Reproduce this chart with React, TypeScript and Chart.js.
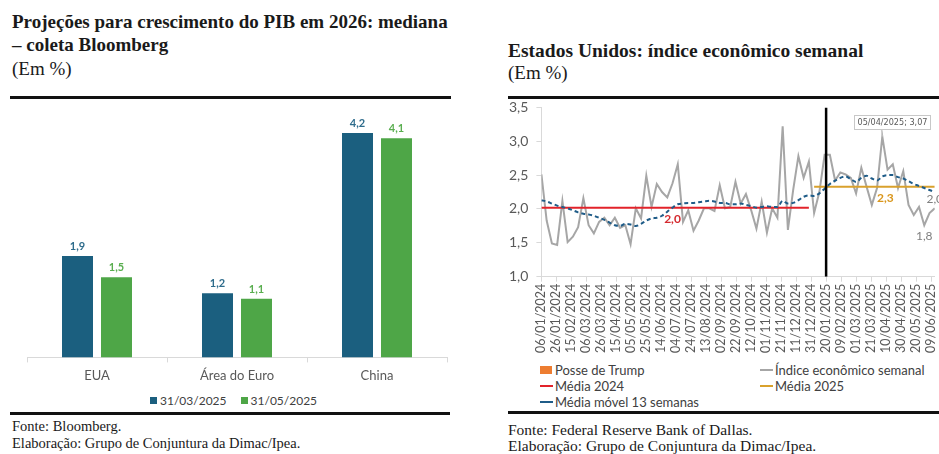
import React, { useEffect, useRef } from "react";
import { Chart, registerables } from "chart.js";
Chart.register(...registerables);

// ---------- Left chart data ----------
const barCategories = ["EUA", "Área do Euro", "China"];
const barSeriesNames = ["31/03/2025", "31/05/2025"];
const barMarch = [1.9, 1.2, 4.2];
const barMay = [1.5, 1.1, 4.1];

// ---------- Right chart data ----------
const firstWeek = "2024-01-06";
const weeklyIndex = [
  2.51, 1.83, 1.49, 1.47, 2.12, 1.51, 1.59, 1.73, 2.16, 1.76,
  1.64, 1.81, 1.87, 1.76, 1.87, 1.72, 1.76, 1.48, 2.01, 1.86,
  2.49, 2.03, 2.37, 2.25, 2.17, 2.38, 2.66, 1.81, 1.98, 1.68,
  1.83, 2.01, 2.01, 1.97, 2.35, 2.01, 2.03, 2.40, 2.08, 2.22,
  1.98, 1.71, 2.11, 1.65, 2.01, 1.87, 3.22, 1.69, 2.28, 2.78,
  2.46, 2.70, 1.94, 2.25, 2.80, 2.80, 2.42, 2.54, 2.51, 2.46,
  2.23, 2.61, 2.33, 2.06, 2.31, 3.07, 2.58, 2.66, 2.31, 2.56,
  2.06, 1.91, 2.03, 1.76, 1.94, 2.01,
];
const movingAvg13 = [
  2.13, 2.11, 2.08, 2.05, 2.03, 2.01, 1.98, 1.95, 1.93, 1.92,
  1.90, 1.87, 1.84, 1.80, 1.76, 1.75, 1.78, 1.77, 1.75, 1.78,
  1.83, 1.86, 1.87, 1.90, 1.96, 2.02, 2.07, 2.08, 2.09, 2.09,
  2.10, 2.11, 2.12, 2.11, 2.09, 2.09, 2.07, 2.07, 2.08, 2.06,
  2.04, 2.02, 2.03, 2.04, 2.03, 2.03, 2.12, 2.08, 2.09, 2.13,
  2.18, 2.20, 2.19, 2.23, 2.30, 2.37, 2.42, 2.46, 2.48, 2.44,
  2.40, 2.46, 2.49, 2.45, 2.42, 2.48, 2.50, 2.50, 2.47, 2.45,
  2.41, 2.37, 2.34, 2.31, 2.28, 2.25,
];
const mean2024 = 2.02;
const mean2025 = 2.33;
const trumpInauguration = "2025-01-20";
const calloutWeek = 65; // 05/04/2025
const calloutText = "05/04/2025; 3,07";
const xTickLabels = [
  "06/01/2024", "26/01/2024", "15/02/2024", "06/03/2024", "26/03/2024",
  "15/04/2024", "05/05/2024", "25/05/2024", "14/06/2024", "04/07/2024",
  "24/07/2024", "13/08/2024", "02/09/2024", "22/09/2024", "12/10/2024",
  "01/11/2024", "21/11/2024", "11/12/2024", "31/12/2024", "20/01/2025",
  "09/02/2025", "01/03/2025", "21/03/2025", "10/04/2025", "30/04/2025",
  "20/05/2025", "09/06/2025",
];
const yTickLabels = ["1,0", "1,5", "2,0", "2,5", "3,0", "3,5"];

const DAY = 86400000;
const parseDMY = (s: string) => {
  const [d, m, y] = s.split("/").map(Number);
  return Date.UTC(y, m - 1, d);
};
const parseISO = (s: string) => {
  const [y, m, d] = s.split("-").map(Number);
  return Date.UTC(y, m - 1, d);
};
const origin = parseISO(firstWeek);
const dayOf = (t: number) => Math.round((t - origin) / DAY);
const weekX = weeklyIndex.map((_, i) => dayOf(origin + i * 7 * DAY));
const weekYear = weekX.map((d) => new Date(origin + d * DAY).getUTCFullYear());
const xTickValues = xTickLabels.map((l) => dayOf(parseDMY(l)));
const trumpX = dayOf(parseISO(trumpInauguration));
const xMax = weekX[weekX.length - 1];

const fmt = (v: number, d = 1) => v.toFixed(d).replace(".", ",");

const BLUE = "#1B5F7F";
const GREEN = "#4EA647";
const GRAY = "#A6A6A6";
const RED = "#E2232A";
const GOLD = "#D9A12C";
const MA = "#1F5C88";
const AXIS = "#D9D9D9";
const TICK = "#595959";
const SANS = "Lato, 'Noto Sans', sans-serif";
const NARROW = "'Liberation Sans Narrow', 'DejaVu Sans Condensed', Lato, sans-serif";
const SERIF = "'Liberation Serif', 'DejaVu Serif', serif";

const barLabelPlugin = {
  id: "barLabels",
  afterDatasetsDraw(chart: any) {
    const ctx = chart.ctx;
    const colors = ["#2E6C8C", "#5AAE50"];
    ctx.save();
    ctx.font = `bold 11px ${SANS}`;
    ctx.textAlign = "center";
    ctx.textBaseline = "bottom";
    chart.data.datasets.forEach((ds: any, di: number) => {
      const meta = chart.getDatasetMeta(di);
      meta.data.forEach((bar: any, i: number) => {
        ctx.fillStyle = colors[di];
        ctx.fillText(fmt(ds.data[i]), bar.x, bar.y - 4);
      });
    });
    ctx.restore();
  },
};

const lineLabelPlugin = {
  id: "lineLabels",
  afterDatasetsDraw(chart: any) {
    const ctx = chart.ctx;
    const xs = chart.scales.x;
    const ys = chart.scales.y;
    ctx.save();
    ctx.textAlign = "center";
    ctx.textBaseline = "middle";
    // mean labels
    ctx.font = `bold 12px ${SANS}`;
    ctx.fillStyle = "#D42A2F";
    ctx.fillText(fmt(mean2024), xs.getPixelForValue(weekX[25]), ys.getPixelForValue(mean2024) + 11);
    ctx.fillStyle = "#D9961C";
    ctx.fillText(fmt(mean2025), xs.getPixelForValue(weekX[65]) + 3, ys.getPixelForValue(mean2025) + 11);
    // point labels
    ctx.font = `12px ${SANS}`;
    ctx.fillStyle = "#7F7F7F";
    const i73 = 73;
    ctx.fillText(fmt(weeklyIndex[i73]), xs.getPixelForValue(weekX[i73]), ys.getPixelForValue(weeklyIndex[i73]) + 11);
    const il = weeklyIndex.length - 1;
    ctx.fillText(fmt(weeklyIndex[il]), xs.getPixelForValue(weekX[il]), ys.getPixelForValue(weeklyIndex[il]) - 9);
    // callout
    const px = xs.getPixelForValue(weekX[calloutWeek]);
    const py = ys.getPixelForValue(weeklyIndex[calloutWeek]);
    ctx.font = `12px ${NARROW}`;
    const tw12 = ctx.measureText(calloutText).width;
    const size = Math.min(12, (12 * 70) / tw12);
    ctx.font = `${size.toFixed(2)}px ${NARROW}`;
    ctx.textAlign = "left";
    const tw = ctx.measureText(calloutText).width;
    const w = Math.round(tw + 6);
    const bx = Math.round(px - 28);
    const by = Math.round(py - 8);
    ctx.strokeStyle = "#C8C8C8";
    ctx.lineWidth = 1;
    ctx.fillStyle = "#FFFFFF";
    ctx.fillRect(bx, by - 14, w, 14);
    ctx.strokeRect(bx + 0.5, by - 13.5, w, 14);
    ctx.beginPath();
    ctx.moveTo(px - 1, by + 0.5);
    ctx.lineTo(px, py);
    ctx.stroke();
    ctx.fillStyle = "#595959";
    ctx.fillText(calloutText, bx + 3.5, by - 6.5);
    ctx.restore();
  },
};

function BarChart() {
  const ref = useRef<HTMLCanvasElement>(null);
  useEffect(() => {
    const chart = new Chart(ref.current!, {
      type: "bar",
      data: {
        labels: barCategories,
        datasets: [
          { label: barSeriesNames[0], data: barMarch, backgroundColor: BLUE, categoryPercentage: 0.557, barPercentage: 0.795 },
          { label: barSeriesNames[1], data: barMay, backgroundColor: GREEN, categoryPercentage: 0.557, barPercentage: 0.795 },
        ],
      },
      options: {
        responsive: true,
        maintainAspectRatio: false,
        animation: false,
        layout: { padding: { left: 27, right: 23, top: 17, bottom: 0 } },
        plugins: { legend: { display: false }, tooltip: { enabled: false } },
        scales: {
          x: {
            grid: { offset: true, drawOnChartArea: false, tickLength: 5, color: AXIS },
            border: { color: AXIS },
            ticks: { font: { family: SANS, size: 13 }, color: TICK, padding: 6 },
          },
          y: { display: false, min: 0, max: 4.5 },
        },
      },
      plugins: [barLabelPlugin],
    } as any);
    return () => chart.destroy();
  }, []);
  return <canvas ref={ref} />;
}

function LineChart() {
  const ref = useRef<HTMLCanvasElement>(null);
  useEffect(() => {
    const pts = (vals: number[]) => vals.map((v, i) => ({ x: weekX[i], y: v }));
    const chart = new Chart(ref.current!, {
      type: "line",
      data: {
        datasets: [
          { label: "Posse de Trump", data: [{ x: trumpX, y: 1 }, { x: trumpX, y: 3.5 }], borderColor: "#000000", borderWidth: 2.5, pointRadius: 0, order: 0 },
          { label: "Média móvel 13 semanas", data: pts(movingAvg13), borderColor: MA, borderWidth: 2, borderDash: [4, 3], pointRadius: 0, cubicInterpolationMode: "monotone", order: 1 },
          { label: "Média 2024", data: weekX.filter((_, i) => weekYear[i] === 2024).map((x) => ({ x, y: mean2024 })), borderColor: RED, borderWidth: 2, pointRadius: 0, order: 2 },
          { label: "Média 2025", data: weekX.filter((_, i) => weekYear[i] === 2025).map((x) => ({ x, y: mean2025 })), borderColor: GOLD, borderWidth: 2, pointRadius: 0, order: 3 },
          { label: "Índice econômico semanal", data: pts(weeklyIndex), borderColor: GRAY, borderWidth: 2, pointRadius: 0, order: 4 },
        ],
      },
      options: {
        responsive: true,
        maintainAspectRatio: false,
        animation: false,
        layout: { padding: { left: 11, right: 0, top: 2, bottom: 0 } },
        plugins: { legend: { display: false }, tooltip: { enabled: false } },
        scales: {
          x: {
            type: "linear",
            min: 0,
            max: xMax,
            afterBuildTicks: (s: any) => {
              s.ticks = xTickValues.map((v) => ({ value: v }));
            },
            grid: { drawOnChartArea: false, tickLength: 5, color: AXIS },
            border: { color: AXIS },
            ticks: {
              autoSkip: false,
              minRotation: 90,
              maxRotation: 90,
              font: { family: SANS, size: 12.5 },
              color: TICK,
              padding: 2,
              callback: (_v: any, i: number) => xTickLabels[i],
            },
          },
          y: {
            min: 1,
            max: 3.5,
            grid: { drawOnChartArea: false, tickLength: 5, color: AXIS },
            border: { color: AXIS },
            ticks: {
              stepSize: 0.5,
              font: { family: SANS, size: 14 },
              color: TICK,
              padding: 8,
              callback: (_v: any, i: number) => yTickLabels[i],
            },
          },
        },
      },
      plugins: [lineLabelPlugin],
    } as any);
    return () => chart.destroy();
  }, []);
  return <canvas ref={ref} />;
}

const rightLegend = [
  { label: "Posse de Trump", color: "#ED7D31", kind: "rect", col: 0, row: 0 },
  { label: "Índice econômico semanal", color: GRAY, kind: "line", col: 1, row: 0 },
  { label: "Média 2024", color: RED, kind: "line", col: 0, row: 1 },
  { label: "Média 2025", color: GOLD, kind: "line", col: 1, row: 1 },
  { label: "Média móvel 13 semanas", color: MA, kind: "line", col: 0, row: 2 },
];

const abs = (o: React.CSSProperties): React.CSSProperties => ({ position: "absolute", ...o });

export default function App() {
  const rule = (left: number, top: number, width: number) => (
    <div style={abs({ left, top, width, height: 2.5, background: "#111" })} />
  );
  return (
    <div style={abs({ left: 0, top: 0, width: 939, height: 454, background: "#fff", overflow: "hidden", color: "#1a1a1a" })}>
      {/* Left panel */}
      <div style={abs({ left: 12, top: 11, fontFamily: SERIF, fontWeight: 700, fontSize: 19, lineHeight: "22.5px", whiteSpace: "nowrap" })}>
        Projeções para crescimento do PIB em 2026: mediana
        <br />– coleta Bloomberg
      </div>
      <div style={abs({ left: 12, top: 58, fontFamily: SERIF, fontSize: 19, lineHeight: "22px", whiteSpace: "nowrap" })}>(Em %)</div>
      {rule(10, 96, 441)}
      <div style={abs({ left: 0, top: 100, width: 470, height: 290 })}>
        <BarChart />
      </div>
      <div style={abs({ left: 150, top: 392, height: 16, display: "flex", alignItems: "center", fontFamily: SANS, fontSize: 12, color: "#404040", whiteSpace: "nowrap" })}>
        <span style={{ width: 7, height: 7, background: BLUE, marginRight: 3 }} />
        <span style={{ marginRight: 14 }}>{barSeriesNames[0]}</span>
        <span style={{ width: 7, height: 7, background: GREEN, marginRight: 3 }} />
        <span>{barSeriesNames[1]}</span>
      </div>
      {rule(10, 412, 440)}
      <div style={abs({ left: 12, top: 418, fontFamily: SERIF, fontSize: 14.5, lineHeight: "17px", whiteSpace: "nowrap" })}>
        Fonte: Bloomberg.
        <br />
        Elaboração: Grupo de Conjuntura da Dimac/Ipea.
      </div>

      {/* Right panel */}
      <div style={abs({ left: 508, top: 40, fontFamily: SERIF, fontWeight: 700, fontSize: 19.5, lineHeight: "22px", whiteSpace: "nowrap" })}>
        Estados Unidos: índice econômico semanal
      </div>
      <div style={abs({ left: 508, top: 62, fontFamily: SERIF, fontSize: 19, lineHeight: "22px", whiteSpace: "nowrap" })}>(Em %)</div>
      {rule(508, 96, 431)}
      <div style={abs({ left: 490, top: 91, width: 458, height: 264 })}>
        <LineChart />
      </div>
      {rightLegend.map((it) => (
        <div
          key={it.label}
          style={abs({ left: it.col === 0 ? 540 : 760, top: 362 + it.row * 16, height: 16, display: "flex", alignItems: "center", fontFamily: SANS, fontSize: 13, color: "#404040", whiteSpace: "nowrap" })}
        >
          {it.kind === "rect" ? (
            <span style={{ width: 12, height: 8, background: it.color, marginRight: 3 }} />
          ) : (
            <span style={{ width: 13, height: 2, background: it.color, marginRight: 2 }} />
          )}
          <span>{it.label}</span>
        </div>
      ))}
      {rule(508, 411, 431)}
      <div style={abs({ left: 508, top: 422, fontFamily: SERIF, fontSize: 15.5, lineHeight: "16px", whiteSpace: "nowrap" })}>
        Fonte: Federal Reserve Bank of Dallas.
        <br />
        Elaboração: Grupo de Conjuntura da Dimac/Ipea.
      </div>
    </div>
  );
}
